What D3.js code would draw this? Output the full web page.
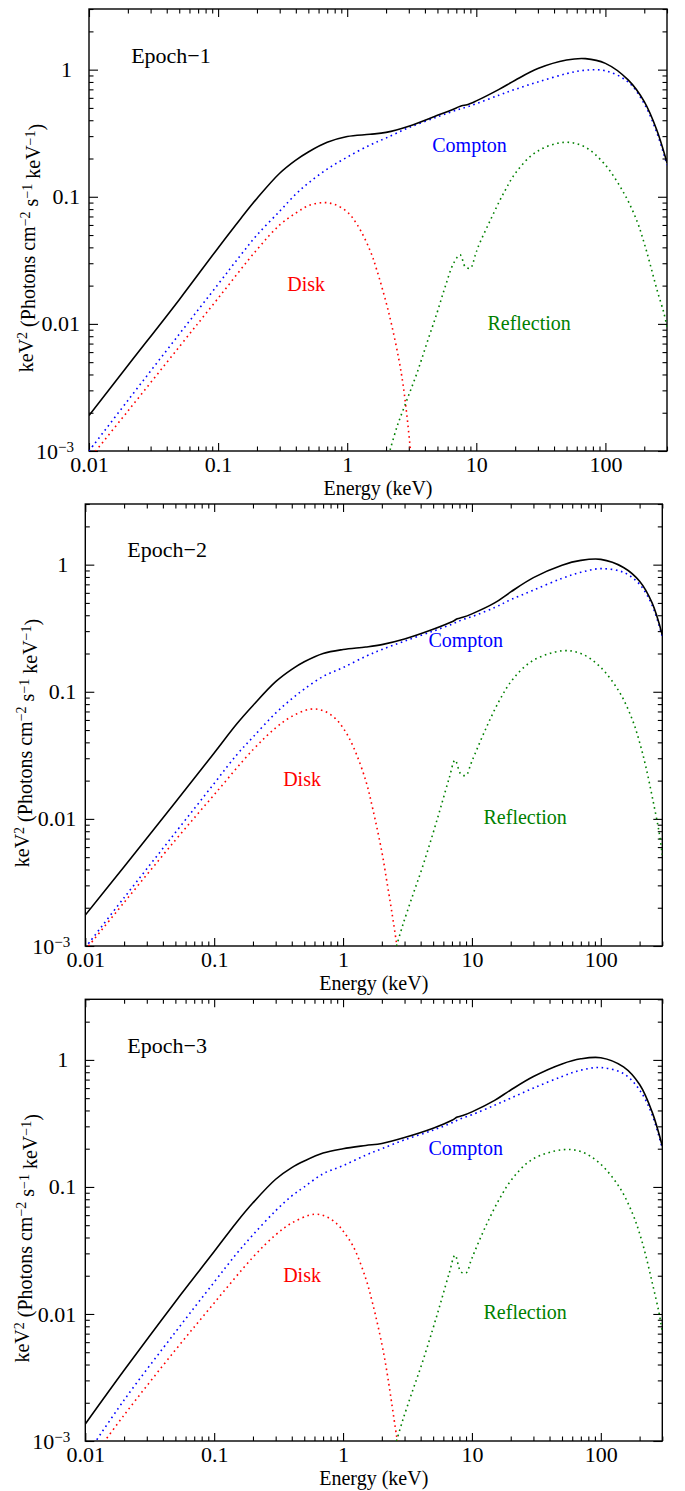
<!DOCTYPE html>
<html><head><meta charset="utf-8">
<script src="https://cdn.jsdelivr.net/npm/d3@7"></script>
<style>
body{margin:0;background:#fff}
svg{display:block}
text{font-family:"Liberation Serif","Times New Roman",serif;fill:#000}
</style>
</head><body>
<svg id="c" width="685" height="1491"></svg>
<script>
// ---------- data ----------
const epochNames = ["Epoch\u22121", "Epoch\u22122", "Epoch\u22123"];
const xTickLabels = ["0.01", "0.1", "1", "10", "100"];
const yTickLabels = ["10\u22123", "0.01", "0.1", "1"];
const labelNames = ["Compton", "Disk", "Reflection"];

// energy grid for total and Compton components (keV)
const energy = [0.01, 0.02, 0.05, 0.1, 0.15, 0.2, 0.3, 0.4, 0.5, 0.7, 1, 1.5, 2, 3, 5, 7, 7.7, 8.5, 10, 15, 20, 30, 50, 70, 100, 150, 200, 250, 300];

const total1 = [0.0019, 0.0047, 0.0155, 0.0396, 0.0675, 0.097, 0.153, 0.194, 0.225, 0.268, 0.298, 0.31, 0.321, 0.359, 0.437, 0.50, 0.521, 0.53, 0.568, 0.70, 0.826, 1.02, 1.19, 1.22, 1.12, 0.83, 0.56, 0.335, 0.185];
const compton1 = [0.001, 0.0025, 0.0083, 0.0205, 0.0349, 0.050, 0.077, 0.105, 0.128, 0.165, 0.205, 0.255, 0.29, 0.35, 0.425, 0.48, 0.495, 0.51, 0.54, 0.63, 0.70, 0.80, 0.93, 0.99, 0.98, 0.80, 0.54, 0.32, 0.178];
const total2 = [0.00175, 0.0042, 0.0135, 0.033, 0.056, 0.078, 0.12, 0.150, 0.172, 0.20, 0.215, 0.225, 0.235, 0.26, 0.31, 0.355, 0.375, 0.385, 0.41, 0.50, 0.61, 0.79, 0.99, 1.08, 1.10, 0.95, 0.74, 0.50, 0.28];
const compton2 = [0.00097, 0.0024, 0.0078, 0.019, 0.032, 0.044, 0.068, 0.088, 0.105, 0.132, 0.155, 0.19, 0.215, 0.25, 0.30, 0.34, 0.355, 0.37, 0.39, 0.46, 0.53, 0.63, 0.78, 0.87, 0.93, 0.87, 0.70, 0.48, 0.27];
const total3 = [0.00136, 0.0036, 0.0125, 0.031, 0.053, 0.075, 0.115, 0.142, 0.16, 0.185, 0.20, 0.212, 0.22, 0.245, 0.29, 0.335, 0.355, 0.365, 0.39, 0.48, 0.58, 0.74, 0.93, 1.02, 1.04, 0.88, 0.64, 0.39, 0.21];
const compton3 = [0.00075, 0.0021, 0.0072, 0.0178, 0.030, 0.042, 0.065, 0.085, 0.10, 0.127, 0.147, 0.178, 0.20, 0.235, 0.28, 0.32, 0.335, 0.35, 0.37, 0.44, 0.50, 0.60, 0.74, 0.83, 0.87, 0.78, 0.58, 0.37, 0.20];

// disk component
const diskE1 = [0.01, 0.02, 0.05, 0.1, 0.2, 0.3, 0.4, 0.5, 0.65, 0.8, 1.0, 1.2, 1.5, 1.7, 2.0, 2.2, 2.5, 2.7, 2.9, 3.1, 3.3];
const disk1 = [0.00086, 0.00206, 0.0066, 0.0159, 0.0384, 0.060, 0.0745, 0.085, 0.090, 0.087, 0.076, 0.060, 0.038, 0.0263, 0.0148, 0.010, 0.0054, 0.0034, 0.0019, 0.001, 0.0006];
const diskE2 = [0.01, 0.02, 0.05, 0.1, 0.2, 0.3, 0.4, 0.56, 0.7, 0.85, 1.0, 1.2, 1.5, 1.7, 2.0, 2.2, 2.4, 2.6, 2.8];
const disk2 = [0.00093, 0.0022, 0.0068, 0.0155, 0.035, 0.052, 0.064, 0.073, 0.071, 0.063, 0.052, 0.037, 0.020, 0.012, 0.0055, 0.0031, 0.0018, 0.00105, 0.0006];
const diskE3 = [0.01, 0.02, 0.05, 0.1, 0.2, 0.3, 0.4, 0.6, 0.75, 0.9, 1.0, 1.2, 1.5, 1.7, 2.0, 2.2, 2.4, 2.6, 2.8];
const disk3 = [0.00062, 0.0016, 0.0052, 0.0122, 0.028, 0.042, 0.052, 0.061, 0.058, 0.051, 0.045, 0.034, 0.019, 0.012, 0.0058, 0.0034, 0.0019, 0.0011, 0.0007];

// reflection component
const reflE1 = [2.15, 2.43, 2.9, 3.47, 4.14, 4.95, 5.75, 6.67, 7.5, 8.2, 9.0, 9.8, 10.3, 12.9, 16.3, 20.7, 29.5, 47.5, 68, 97, 139, 176, 200, 223, 251, 283, 300];
const refl1 = [0.00102, 0.00155, 0.00252, 0.0041, 0.00705, 0.0121, 0.0197, 0.030, 0.0349, 0.0282, 0.0274, 0.0345, 0.040, 0.066, 0.107, 0.160, 0.227, 0.268, 0.249, 0.184, 0.107, 0.064, 0.043, 0.029, 0.0185, 0.0123, 0.0095];
const reflE2 = [2.6, 2.9, 3.47, 4.14, 4.95, 5.75, 6.67, 7.4, 8.2, 9.0, 9.8, 10.5, 12.9, 16.3, 20.7, 29.5, 50, 70, 97, 139, 176, 200, 223, 251, 283, 300];
const refl2 = [0.001, 0.00145, 0.0025, 0.0042, 0.0075, 0.0125, 0.021, 0.029, 0.0225, 0.022, 0.027, 0.032, 0.052, 0.085, 0.125, 0.175, 0.21, 0.20, 0.16, 0.10, 0.060, 0.040, 0.026, 0.0148, 0.0079, 0.0052];
const reflE3 = [2.6, 2.9, 3.47, 4.14, 4.95, 5.75, 6.67, 7.4, 8.2, 9.0, 9.8, 10.5, 12.9, 16.3, 20.7, 29.5, 50, 70, 97, 139, 176, 200, 223, 251, 283, 300];
const refl3 = [0.001, 0.00145, 0.0025, 0.0042, 0.0075, 0.0125, 0.021, 0.029, 0.0215, 0.021, 0.026, 0.031, 0.05, 0.08, 0.117, 0.165, 0.196, 0.19, 0.155, 0.10, 0.062, 0.043, 0.029, 0.0175, 0.0102, 0.0072];

// ---------- layout ----------
const panels = [
  {top: 9,     bottom: 451, left: 89,   right: 667,   total: total1, compton: compton1, diskE: diskE1, disk: disk1, reflE: reflE1, refl: refl1,
   pos: {epoch: [0.0212, 1.135], compton: [4.56, 0.226], disk: [0.343, 0.018], refl: [12.2, 0.009]}},
  {top: 504,   bottom: 946, left: 85.3, right: 662.3, total: total2, compton: compton2, diskE: diskE2, disk: disk2, reflE: reflE2, refl: refl2,
   pos: {epoch: [0.0212, 1.14], compton: [4.6, 0.223], disk: [0.343, 0.018], refl: [12.3, 0.0091]}},
  {top: 999.3, bottom: 1441, left: 85.3, right: 662.3, total: total3, compton: compton3, diskE: diskE3, disk: disk3, reflE: reflE3, refl: refl3,
   pos: {epoch: [0.0212, 1.14], compton: [4.6, 0.18], disk: [0.343, 0.018], refl: [12.3, 0.0091]}}
];

const svg = d3.select("#c");
const xMajor = [0.01, 0.1, 1, 10, 100];
const yMajor = [0.001, 0.01, 0.1, 1];

panels.forEach((p, i) => {
  const x = d3.scaleLog().domain([0.01, 300]).range([p.left, p.right]);
  const y = d3.scaleLog().domain([0.001, 3]).range([p.bottom, p.top]);
  const g = svg.append("g");

  const xMinor = x.ticks(20).filter(v => !xMajor.some(m => Math.abs(v / m - 1) < 1e-6));
  const yMinor = y.ticks(20).filter(v => !yMajor.some(m => Math.abs(v / m - 1) < 1e-6));

  const cid = "clip" + i;
  g.append("clipPath").attr("id", cid).append("rect")
    .attr("x", p.left).attr("y", p.top).attr("width", p.right - p.left).attr("height", p.bottom - p.top);

  const addAxis = (axisFn, scale, vals, size, labels, transform, pad) => {
    const a = axisFn(scale).tickValues(vals).tickSize(-size).tickPadding(pad);
    if (labels) a.tickFormat((d) => labels[vals.indexOf(d)]); else a.tickFormat("");
    const ag = g.append("g").attr("transform", transform).call(a);
    ag.select(".domain").remove();
    ag.selectAll(".tick line").attr("stroke", "#000").attr("stroke-width", 1.1);
    return ag;
  };
  const bx = addAxis(d3.axisBottom, x, xMajor, 8, xTickLabels, `translate(0,${p.bottom})`, 5);
  bx.selectAll("text").attr("font-size", 22);
  addAxis(d3.axisBottom, x, xMinor, 4.5, null, `translate(0,${p.bottom})`, 5);
  addAxis(d3.axisTop, x, xMajor, 8, null, `translate(0,${p.top})`, 5);
  addAxis(d3.axisTop, x, xMinor, 4.5, null, `translate(0,${p.top})`, 5);

  const ly = addAxis(d3.axisLeft, y, yMajor, 9, yTickLabels, `translate(${p.left},0)`, 9);
  ly.selectAll("text").attr("font-size", 22)
    .each(function(d) {
      const t = d3.select(this);
      if (d === 1) t.attr("dx", -8);
      if (d === 0.001) {
        t.text("10").attr("dx", -6);
        t.append("tspan").attr("dy", "-0.42em").attr("font-size", 15).text("\u22123");
      }
    });
  addAxis(d3.axisLeft, y, yMinor, 4.5, null, `translate(${p.left},0)`, 9);
  addAxis(d3.axisRight, y, yMajor, 9, null, `translate(${p.right},0)`, 9);
  addAxis(d3.axisRight, y, yMinor, 4.5, null, `translate(${p.right},0)`, 9);

  g.append("rect").attr("x", p.left).attr("y", p.top)
    .attr("width", p.right - p.left).attr("height", p.bottom - p.top)
    .attr("fill", "none").attr("stroke", "#000").attr("stroke-width", 1.4);

  const line = d3.line().x(d => x(d[0])).y(d => y(d[1])).curve(d3.curveCatmullRom.alpha(0.5));
  const cg = g.append("g").attr("clip-path", `url(#${cid})`);
  const draw = (E, V, color, isDotted) => {
    const path = cg.append("path").datum(E.map((e, k) => [e, V[k]])).attr("d", line)
      .attr("fill", "none").attr("stroke", color).attr("stroke-width", 1.6);
    if (isDotted) path.attr("stroke-dasharray", "1.6,3.6");
  };
  draw(p.diskE, p.disk, "#ff0000", true);
  draw(p.reflE, p.refl, "#008000", true);
  draw(energy, p.compton, "#0000ff", true);
  draw(energy, p.total, "#000000", false);

  g.append("text").attr("x", x(p.pos.epoch[0])).attr("y", y(p.pos.epoch[1]))
    .attr("font-size", 22).text(epochNames[i]);
  g.append("text").attr("x", x(p.pos.compton[0])).attr("y", y(p.pos.compton[1]))
    .attr("font-size", 20).style("fill", "#0000ff").text(labelNames[0]);
  g.append("text").attr("x", x(p.pos.disk[0])).attr("y", y(p.pos.disk[1]))
    .attr("font-size", 20).style("fill", "#ff0000").text(labelNames[1]);
  g.append("text").attr("x", x(p.pos.refl[0])).attr("y", y(p.pos.refl[1]))
    .attr("font-size", 20).style("fill", "#008000").text(labelNames[2]);

  g.append("text").attr("x", (p.left + p.right) / 2).attr("y", p.bottom + 44)
    .attr("text-anchor", "middle").attr("font-size", 20).text("Energy (keV)");
  const yt = g.append("text").attr("text-anchor", "middle").attr("font-size", 20)
    .attr("transform", `translate(${p.left - 56},${p.top + 239}) rotate(-90)`);
  yt.append("tspan").text("keV");
  yt.append("tspan").attr("dy", "-0.4em").attr("font-size", 14).text("2");
  yt.append("tspan").attr("dy", "0.4em").text(" (Photons cm");
  yt.append("tspan").attr("dy", "-0.4em").attr("font-size", 14).text("\u22122");
  yt.append("tspan").attr("dy", "0.4em").text(" s");
  yt.append("tspan").attr("dy", "-0.4em").attr("font-size", 14).text("\u22121");
  yt.append("tspan").attr("dy", "0.4em").text(" keV");
  yt.append("tspan").attr("dy", "-0.4em").attr("font-size", 14).text("\u22121");
  yt.append("tspan").attr("dy", "0.4em").text(")");
});
</script>
</body></html>
